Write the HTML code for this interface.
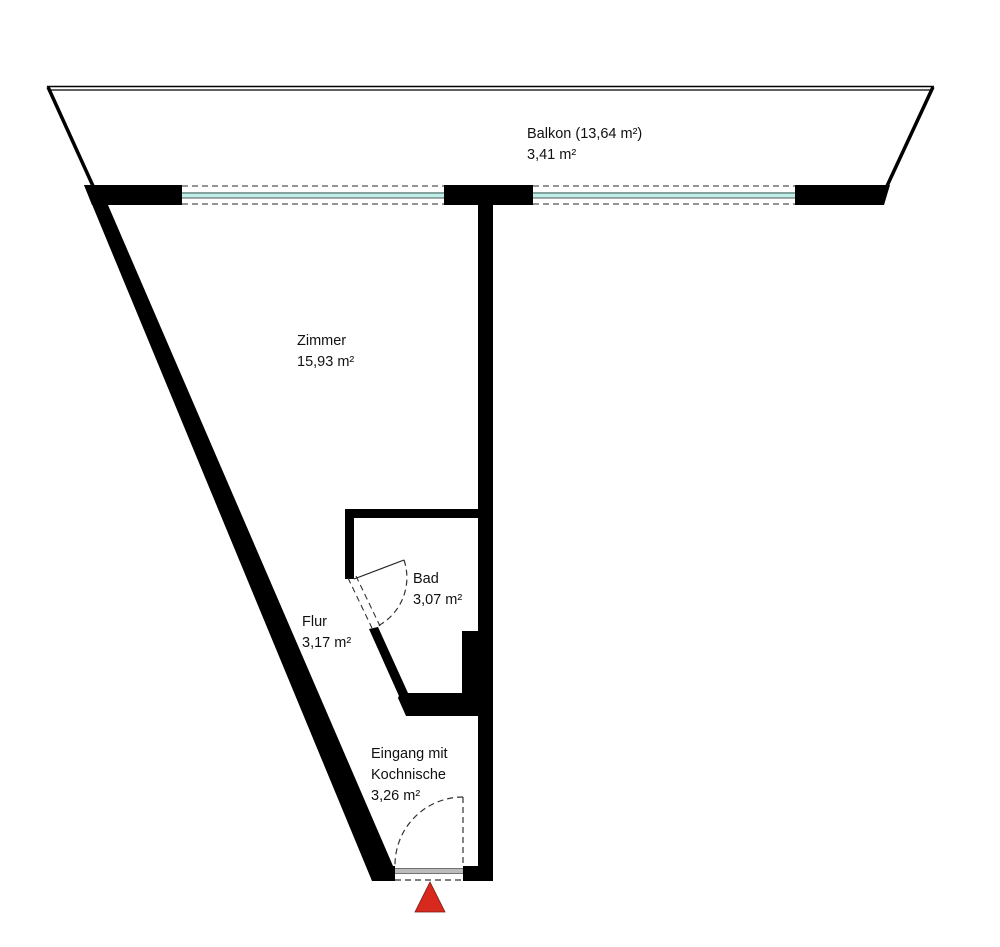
<!DOCTYPE html>
<html><head><meta charset="utf-8"><style>
html,body{margin:0;padding:0;background:#fff}
svg{display:block}
text{font-family:"Liberation Sans","DejaVu Sans",sans-serif;font-size:14.5px;fill:#111}
</style></head><body>
<svg width="1000" height="947" viewBox="0 0 1000 947" xmlns="http://www.w3.org/2000/svg">
<!-- balcony -->
<line x1="47" y1="86.5" x2="934" y2="86.5" stroke="#000" stroke-width="1.5"/>
<line x1="49" y1="90" x2="932" y2="90" stroke="#000" stroke-width="1.2"/>
<line x1="48" y1="87" x2="93" y2="186" stroke="#000" stroke-width="3.5"/>
<line x1="933" y1="87" x2="887" y2="186" stroke="#000" stroke-width="3.5"/>
<!-- top wall -->
<polygon points="84,185 182,185 182,205 92,205" fill="#000"/>
<rect x="444" y="185" width="89" height="20" fill="#000"/>
<polygon points="795,185 890,185 884,205 795,205" fill="#000"/>
<!-- windows -->
<g>
<line x1="182" y1="186" x2="444" y2="186" stroke="#555" stroke-width="1.3" stroke-dasharray="6,4"/>
<line x1="182" y1="204" x2="444" y2="204" stroke="#555" stroke-width="1.3" stroke-dasharray="6,4"/>
<rect x="182" y="192" width="262" height="6" fill="#bfeee8"/>
<line x1="182" y1="193" x2="444" y2="193" stroke="#222" stroke-width="0.8"/>
<line x1="182" y1="198" x2="444" y2="198" stroke="#222" stroke-width="0.8"/>
<line x1="533" y1="186" x2="795" y2="186" stroke="#555" stroke-width="1.3" stroke-dasharray="6,4"/>
<line x1="533" y1="204" x2="795" y2="204" stroke="#555" stroke-width="1.3" stroke-dasharray="6,4"/>
<rect x="533" y="192" width="262" height="6" fill="#bfeee8"/>
<line x1="533" y1="193" x2="795" y2="193" stroke="#222" stroke-width="0.8"/>
<line x1="533" y1="198" x2="795" y2="198" stroke="#222" stroke-width="0.8"/>
</g>
<!-- vertical wall -->
<rect x="478" y="185" width="15" height="696" fill="#000"/>
<!-- left slanted wall -->
<polygon points="84,185 108,205 393,866 393,881 372,881" fill="#000"/>
<polygon points="84,185 106,185 108,205" fill="#000"/>
<!-- bottom wall -->
<rect x="372" y="866" width="23" height="15" fill="#000"/>
<rect x="463" y="866" width="30" height="15" fill="#000"/>
<!-- entrance door -->
<rect x="395" y="869" width="68" height="4" fill="#bbb"/>
<line x1="395" y1="868.5" x2="463" y2="868.5" stroke="#444" stroke-width="0.8"/>
<line x1="395" y1="873.5" x2="463" y2="873.5" stroke="#444" stroke-width="0.8"/>
<line x1="395" y1="880" x2="463" y2="880" stroke="#333" stroke-width="1.2" stroke-dasharray="6,4"/>
<line x1="463" y1="797" x2="463" y2="866" stroke="#333" stroke-width="1.2" stroke-dasharray="6,4"/>
<path d="M463,797 A68,68 0 0 0 395,866" fill="none" stroke="#333" stroke-width="1.2" stroke-dasharray="6,4"/>
<polygon points="430,882 415,912 445,912" fill="#d8291f" stroke="#7a1a14" stroke-width="0.8"/>
<!-- Bad -->
<rect x="345" y="509" width="134" height="9" fill="#000"/>
<rect x="345" y="509" width="9" height="70" fill="#000"/>
<polygon points="369,629 378,627 408,693 403,705" fill="#000"/>
<polygon points="400,693 479,693 479,716 406,716 398,698" fill="#000"/>
<rect x="462" y="631" width="17" height="85" fill="#000"/>
<!-- Bad door -->
<line x1="348" y1="578" x2="372" y2="628" stroke="#333" stroke-width="1.1" stroke-dasharray="6,4"/>
<line x1="356" y1="576" x2="380" y2="626" stroke="#333" stroke-width="1.1" stroke-dasharray="6,4"/>
<line x1="354" y1="579" x2="404" y2="560" stroke="#222" stroke-width="1.2"/>
<path d="M404,560 A55,55 0 0 1 376,627" fill="none" stroke="#333" stroke-width="1.2" stroke-dasharray="6,4"/>
<!-- labels -->
<text x="527" y="138">Balkon (13,64 m²)</text>
<text x="527" y="159">3,41 m²</text>
<text x="297" y="345">Zimmer</text>
<text x="297" y="366">15,93 m²</text>
<text x="413" y="583">Bad</text>
<text x="413" y="604">3,07 m²</text>
<text x="302" y="626">Flur</text>
<text x="302" y="647">3,17 m²</text>
<text x="371" y="758">Eingang mit</text>
<text x="371" y="779">Kochnische</text>
<text x="371" y="800">3,26 m²</text>
</svg>
</body></html>
